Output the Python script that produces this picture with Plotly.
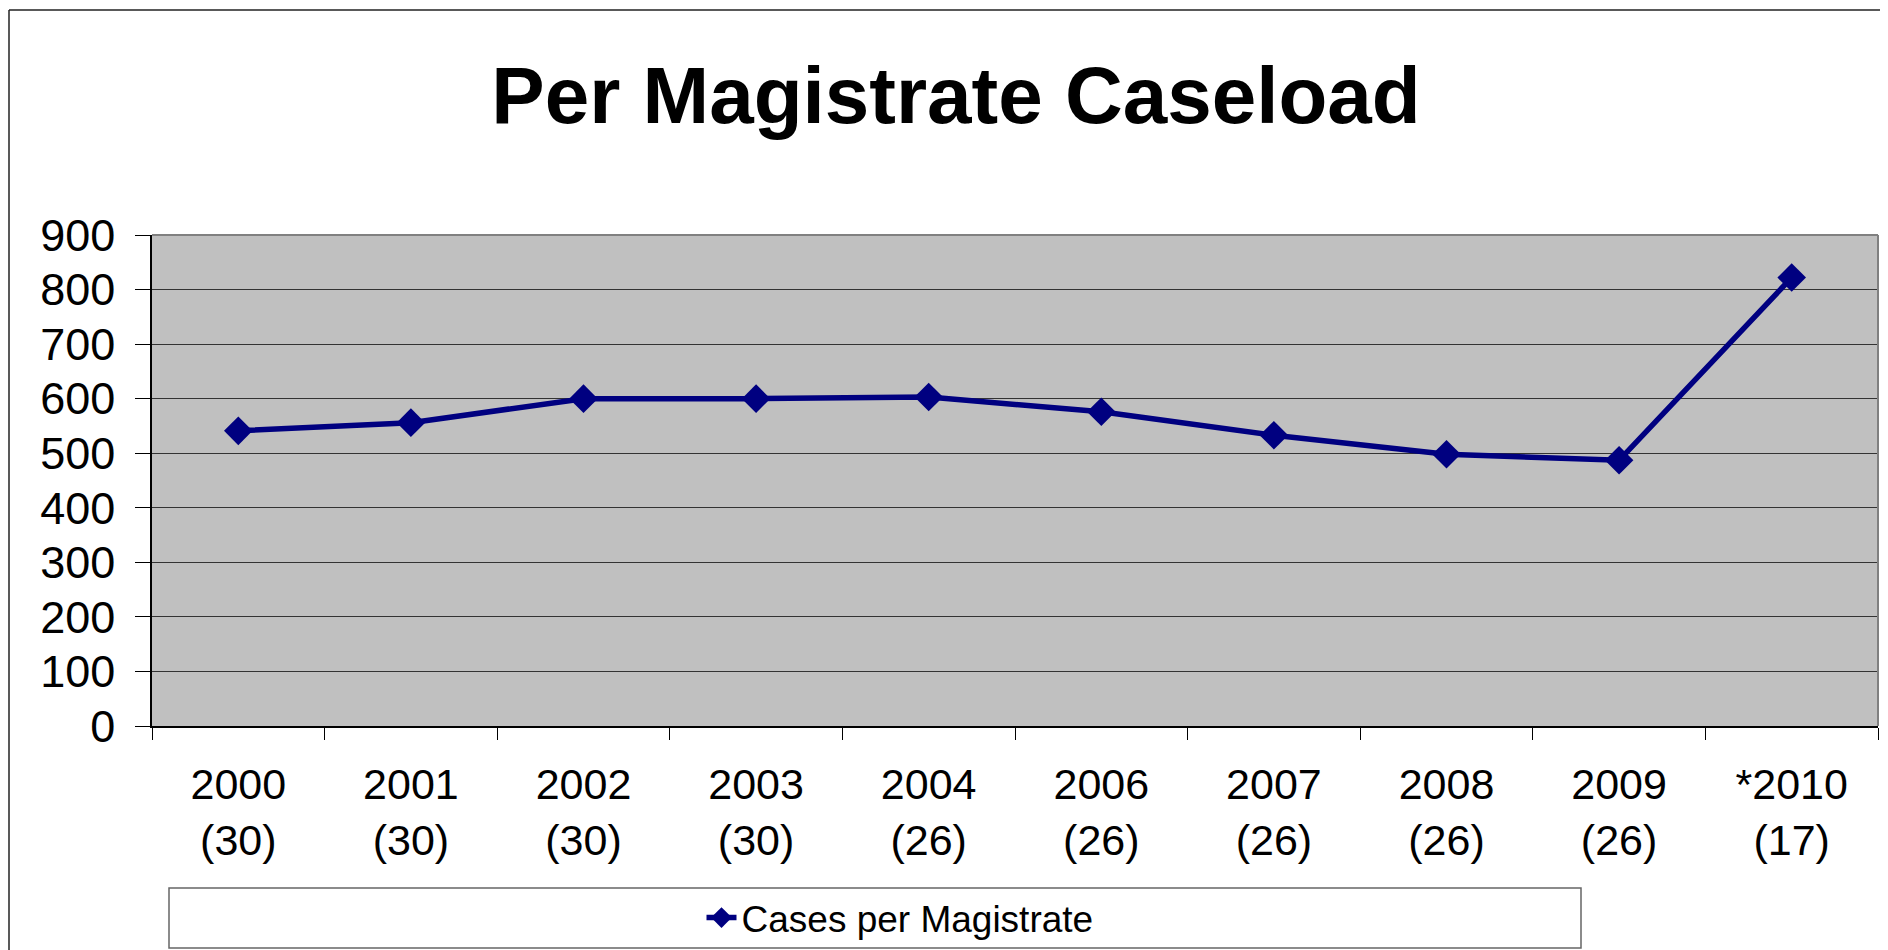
import plotly.graph_objects as go

years = ["2000", "2001", "2002", "2003", "2004", "2006", "2007", "2008", "2009", "*2010"]
magistrates = [30, 30, 30, 30, 26, 26, 26, 26, 26, 17]
cases_per_magistrate = [541, 556, 600, 600, 603, 576, 533, 498, 487, 822]
y_ticks = list(range(0, 1000, 100))

tick_text = [f"{y}<br>({n})" for y, n in zip(years, magistrates)]

# the page body adds an 8px margin, so work in page pixels and shift back
OFF = 8
W, H = 1888 - OFF, 950 - OFF
L, R, T, B = 152 - OFF, 10, 235 - OFF, 224
PW, PH = W - L - R, H - T - B


def px_x(x):
    return (x - OFF - L) / PW


def px_y(y):
    return (H - B - (y - OFF)) / PH


fig = go.Figure()
fig.add_trace(go.Scatter(
    x=years, y=cases_per_magistrate, mode="lines+markers",
    name="Cases per Magistrate",
    line=dict(color="#000080", width=5.5),
    marker=dict(symbol="diamond", size=22, color="#000080"),
))

shapes = [
    # outer chart frame (left + top edges visible)
    dict(type="line", xref="paper", yref="paper", x0=px_x(9), x1=px_x(9),
         y0=px_y(1000), y1=px_y(10), line=dict(color="#222", width=1.5)),
    dict(type="line", xref="paper", yref="paper", x0=px_x(9), x1=px_x(2000),
         y0=px_y(10), y1=px_y(10), line=dict(color="#222", width=1.5)),
    # plot area grey top/right border
    dict(type="line", xref="paper", yref="paper", x0=0, x1=1, y0=1, y1=1,
         line=dict(color="#808080", width=2)),
    dict(type="line", xref="paper", yref="paper", x0=1, x1=1, y0=0, y1=1,
         line=dict(color="#808080", width=2)),
    # legend box
    dict(type="rect", xref="paper", yref="paper", x0=px_x(169), x1=px_x(1581),
         y0=px_y(948), y1=px_y(888), line=dict(color="#666", width=1.5)),
]

fig.update_layout(
    width=W, height=H,
    margin=dict(l=L, r=R, t=T, b=B, autoexpand=False),
    paper_bgcolor="white", plot_bgcolor="#C0C0C0",
    font=dict(family="Liberation Sans, Arial, sans-serif", color="black"),
    title=dict(text="<b>Per Magistrate Caseload</b>", font=dict(size=80, color="black"),
               xref="container", x=(956 - OFF) / W, xanchor="center",
               yref="container", y=1 - (95 - OFF) / H, yanchor="middle"),
    showlegend=True,
    legend=dict(x=px_x(900), y=px_y(918), xanchor="center", yanchor="middle",
                bgcolor="rgba(0,0,0,0)", borderwidth=0, font=dict(size=37)),
    shapes=shapes,
)
fig.update_xaxes(
    type="category", tickmode="array", tickvals=years, ticktext=tick_text,
    range=[-0.5, len(years) - 0.5],
    tickson="boundaries", ticks="outside", ticklen=12, tickcolor="black", tickwidth=1,
    showline=True, linecolor="black", linewidth=1.5, showgrid=False,
    tickfont=dict(size=43), ticklabelstandoff=20,
)
fig.update_yaxes(
    range=[0, 900], tickvals=y_ticks, ticks="outside", ticklen=15, tickcolor="black",
    tickwidth=1, showline=True, linecolor="black", linewidth=1.5,
    showgrid=True, gridcolor="#333", gridwidth=1.2, zeroline=False,
    tickfont=dict(size=45), ticklabelstandoff=11,
)

fig.write_html("out.html")
